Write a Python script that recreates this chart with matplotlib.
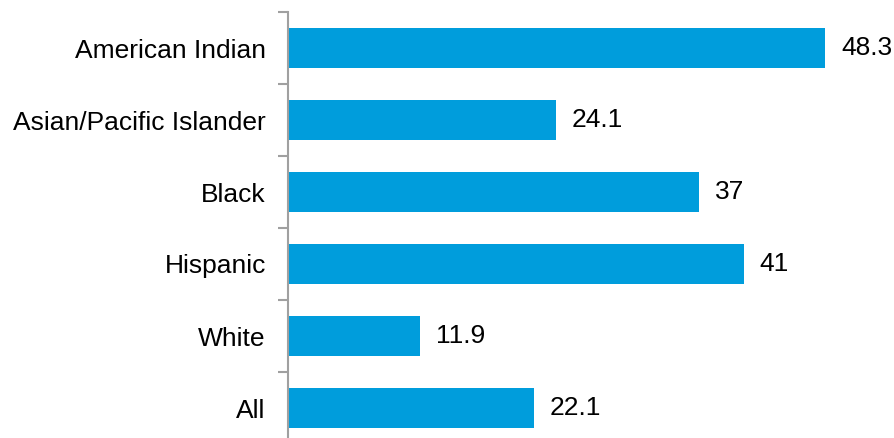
import matplotlib
matplotlib.use("Agg")
from matplotlib import pyplot as plt

groups = ["American Indian", "Asian/Pacific Islander", "Black", "Hispanic", "White", "All"]
rates = [48.3, 24.1, 37, 41, 11.9, 22.1]
rate_labels = ["48.3", "24.1", "37", "41", "11.9", "22.1"]

plt.rcParams['font.family'] = ['Liberation Sans', 'DejaVu Sans']

fig = plt.figure(figsize=(8.94, 4.38), dpi=100)
# axes box: left edge at x=288px, top at 12px, runs a bit past the bottom
ax = fig.add_axes([288 / 894, -6 / 438, 606 / 894, 432 / 438])

pos = list(range(len(groups)))
bars = ax.barh(pos, rates, height=0.56, color="#009DDC", zorder=2)

for b, txt in zip(bars, rate_labels):
    ax.annotate(txt, (b.get_width(), b.get_y() + b.get_height() / 2),
                xytext=(11.5, 0), textcoords="offset points",
                ha="left", va="center", fontsize=19, color="#000000")

ax.set_ylim(len(groups) - 0.5, -0.5)
ax.set_xlim(0, 54.5)

# labels at bar centers, tick marks on the category boundaries
ax.set_yticks(pos)
ax.set_yticklabels(groups, fontsize=19)
ax.tick_params(axis="y", which="major", length=0, pad=16)
ax.set_yticks([p - 0.5 for p in range(len(groups) + 1)], minor=True)
ax.tick_params(axis="y", which="minor", length=7, width=1.5, color="#A0A0A0", direction="out")

ax.set_xticks([])
for side in ["top", "right", "bottom"]:
    ax.spines[side].set_visible(False)
ax.spines["left"].set_color("#A0A0A0")
ax.spines["left"].set_linewidth(1.5)
ax.spines["left"].set_zorder(3)

fig.savefig("out.png", dpi=100)
